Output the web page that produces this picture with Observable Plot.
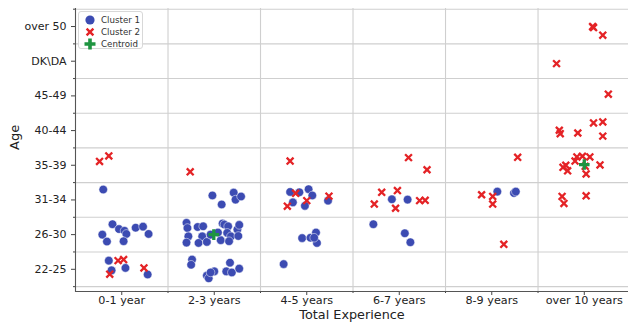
<!DOCTYPE html>
<html>
<head>
<meta charset="utf-8">
<script src="https://cdn.jsdelivr.net/npm/d3@7"></script>
<script src="https://cdn.jsdelivr.net/npm/@observablehq/plot@0.6"></script>
<style>
  html, body { margin: 0; padding: 0; background: #fff; }
  #wrap { position: relative; width: 628px; height: 325px; font-family: "DejaVu Sans", sans-serif; }
  #legend { position: absolute; left: 78px; top: 11px; width: 65px; height: 38px; border: 1px solid #d8d8d8; border-radius: 3px; background: rgba(255,255,255,0.85); box-sizing: border-box; }
  #legend .row { position: absolute; left: 0; height: 12px; display: flex; align-items: center; font-size: 8.7px; color: #333; white-space: nowrap; }
  #legend svg { width: 18px; height: 12px; margin-left: 2px; margin-right: 2px; }
</style>
</head>
<body>
<div id="wrap"></div>
<script>
// Category labels
const expLabels = ["0-1 year", "2-3 years", "4-5 years", "6-7 years", "8-9 years", "over 10 years"];
const ageLabels = ["22-25", "26-30", "31-34", "35-39", "40-44", "45-49", "DK\\DA", "over 50"];

// Points: [experience index, age index, jitter x, jitter y] (jitter in category units)
const cluster1 = [
  [0,2,-0.20,0.30],
  [0,1,-0.10,0.30],[0,1,-0.03,0.16],[0,1,0.03,0.11],[0,1,0.05,0.02],[0,1,0.15,0.20],
  [0,1,0.23,0.23],[0,1,0.29,0.02],[0,1,-0.21,0.00],[0,1,-0.16,-0.20],[0,1,0.02,-0.19],
  [0,0,-0.14,0.25],[0,0,-0.11,-0.03],[0,0,0.04,0.04],[0,0,0.28,-0.15],
  [1,2,-0.02,0.13],[1,2,0.08,-0.13],[1,2,0.21,0.21],[1,2,0.23,0.01],[1,2,0.29,0.10],
  [1,1,-0.30,0.34],[1,1,-0.29,0.19],[1,1,-0.28,-0.05],[1,1,-0.30,-0.23],[1,1,-0.18,0.22],
  [1,1,-0.12,0.24],[1,1,-0.13,-0.05],[1,1,-0.17,-0.24],[1,1,-0.08,-0.21],[1,1,-0.04,0.00],
  [1,1,0.09,0.32],[1,1,0.11,0.29],[1,1,0.15,0.24],[1,1,0.14,0.05],[1,1,0.18,-0.05],
  [1,1,0.25,0.15],[1,1,0.27,0.28],[1,1,0.26,-0.04],[1,1,0.07,-0.16],[1,1,0.16,-0.19],
  [1,1,0.04,0.06],
  [1,0,-0.24,0.28],[1,0,-0.25,0.13],[1,0,-0.08,-0.18],[1,0,-0.06,-0.26],[1,0,0.00,-0.06],
  [1,0,-0.04,-0.09],[1,0,0.13,-0.06],[1,0,0.17,0.19],[1,0,0.19,-0.09],[1,0,0.27,0.02],
  [2,2,-0.18,0.23],[2,2,-0.08,0.22],[2,2,-0.15,-0.07],[2,2,0.02,0.31],[2,2,0.06,0.13],
  [2,2,-0.02,-0.17],[2,2,0.23,-0.02],
  [2,1,-0.05,-0.10],[2,1,0.04,-0.09],[2,1,0.10,0.06],[2,1,0.11,-0.24],[2,1,0.08,-0.09],
  [2,0,-0.25,0.15],
  [3,2,-0.08,0.02],[3,2,0.09,0.01],
  [3,1,-0.28,0.30],[3,1,0.06,0.04],[3,1,0.12,-0.22],
  [4,2,0.06,0.24],[4,2,0.24,0.20],[4,2,0.26,0.24]
];
const cluster2 = [
  [0,3,-0.24,0.11],[0,3,-0.14,0.27],
  [0,0,-0.04,0.25],[0,0,0.02,0.28],[0,0,-0.13,-0.14],[0,0,0.24,0.04],
  [1,3,-0.26,-0.19],
  [2,3,-0.18,0.12],
  [2,2,-0.12,0.19],[2,2,-0.21,-0.18],[2,2,0.00,-0.02],[2,2,0.24,0.11],
  [3,3,0.10,0.22],[3,3,0.30,-0.13],
  [3,2,-0.19,0.22],[3,2,-0.02,0.27],[3,2,-0.27,-0.12],[3,2,-0.04,-0.24],[3,2,0.22,-0.02],[3,2,0.28,-0.01],
  [4,3,0.28,0.23],
  [4,2,-0.11,0.15],[4,2,0.01,0.10],[4,2,0.01,-0.12],
  [4,1,0.13,-0.28],
  [5,7,0.09,0.00],[5,7,0.10,-0.03],[5,7,0.20,-0.25],
  [5,6,-0.30,-0.07],
  [5,5,0.26,0.05],
  [5,4,0.10,0.22],[5,4,0.20,0.25],[5,4,0.20,-0.16],[5,4,-0.27,0.01],[5,4,-0.26,-0.09],[5,4,-0.07,-0.07],
  [5,3,-0.08,0.24],[5,3,-0.02,0.26],[5,3,0.06,0.24],[5,3,-0.10,0.12],[5,3,-0.23,-0.06],
  [5,3,-0.20,0.00],[5,3,-0.18,-0.16],[5,3,0.17,0.01],[5,3,0.02,-0.25],[5,3,0.01,-0.03],
  [5,2,-0.24,0.10],[5,2,-0.22,-0.10],[5,2,0.02,0.12]
];
const centroids = [
  [1,1,-0.005,0.00],
  [5,3,0.00,0.02]
];

const blue = "#3c4bb2";
const red = "#e42326";
const green = "#1e9440";
const gx = d => d[0] + d[2];
const gy = d => d[1] + d[3];

const plot = Plot.plot({
  width: 628,
  height: 325,
  marginLeft: 75,
  marginRight: 0,
  marginTop: 8,
  marginBottom: 34,
  style: { fontFamily: "DejaVu Sans, sans-serif", color: "#222", background: "#fff", overflow: "visible" },
  x: { type: "linear", domain: [-0.5, 5.478], axis: null },
  y: { type: "linear", domain: [-0.64, 7.52], axis: null },
  marks: [
    Plot.gridX(d3.range(0.5, 5.5, 1), { stroke: "#cfcfcf", strokeOpacity: 1, strokeWidth: 1.1 }),
    Plot.gridY(d3.range(-0.5, 8, 1), { stroke: "#cfcfcf", strokeOpacity: 1, strokeWidth: 1.1 }),
    Plot.axisX(d3.range(0, 6), { tickFormat: i => expLabels[i], tickSize: 4, tickPadding: 1, fontSize: 11.2, stroke: "#444", label: null }),
    Plot.axisY(d3.range(0, 8), { tickFormat: i => ageLabels[i], tickSize: 4, tickPadding: 5, fontSize: 11, stroke: "#444", label: null }),
    Plot.axisY(d3.range(-0.5, 8, 1), { tickFormat: () => "", tickSize: 2, stroke: "#444", label: null }),
    Plot.axisX(d3.range(0.5, 5.5, 1), { tickFormat: () => "", tickSize: 2, stroke: "#444", label: null }),
    Plot.ruleX([-0.5], { stroke: "#555", strokeWidth: 1.1 }),
    Plot.frame({ anchor: "bottom", stroke: "#555", strokeWidth: 1.1 }),
    Plot.dot(cluster1, { x: gx, y: gy, r: 4.3, fill: blue, stroke: "#fff", strokeWidth: 0.5 }),
    Plot.dot(cluster2, { x: gx, y: gy, symbol: "times", r: 3.2, stroke: red, strokeWidth: 2.3 }),
    Plot.dot(centroids, { x: gx, y: gy, symbol: "plus", r: 3.5, stroke: green, strokeWidth: 3.3 }),
    Plot.text(["Total Experience"], { frameAnchor: "bottom", dy: 27, fontSize: 12.8, fill: "#222" }),
    Plot.text(["Age"], { frameAnchor: "left", dx: -61, rotate: -90, fontSize: 13, fill: "#222" })
  ]
});

const wrap = document.getElementById("wrap");
wrap.appendChild(plot);

const legend = document.createElement("div");
legend.id = "legend";
const items = [
  { label: "Cluster 1", svg: `<circle cx="9" cy="6" r="4.6" fill="${blue}"/>` },
  { label: "Cluster 2", svg: `<path d="M5.6,2.6L12.4,9.4M5.6,9.4L12.4,2.6" stroke="${red}" stroke-width="2.4"/>` },
  { label: "Centroid", svg: `<path d="M9,0.5V11.5M3.5,6H14.5" stroke="${green}" stroke-width="3.6"/>` }
];
items.forEach((it, k) => {
  const row = document.createElement("div");
  row.className = "row";
  row.style.top = (2 + k * 12) + "px";
  row.innerHTML = `<svg viewBox="0 0 18 12">${it.svg}</svg><span>${it.label}</span>`;
  legend.appendChild(row);
});
wrap.appendChild(legend);
</script>
</body>
</html>
